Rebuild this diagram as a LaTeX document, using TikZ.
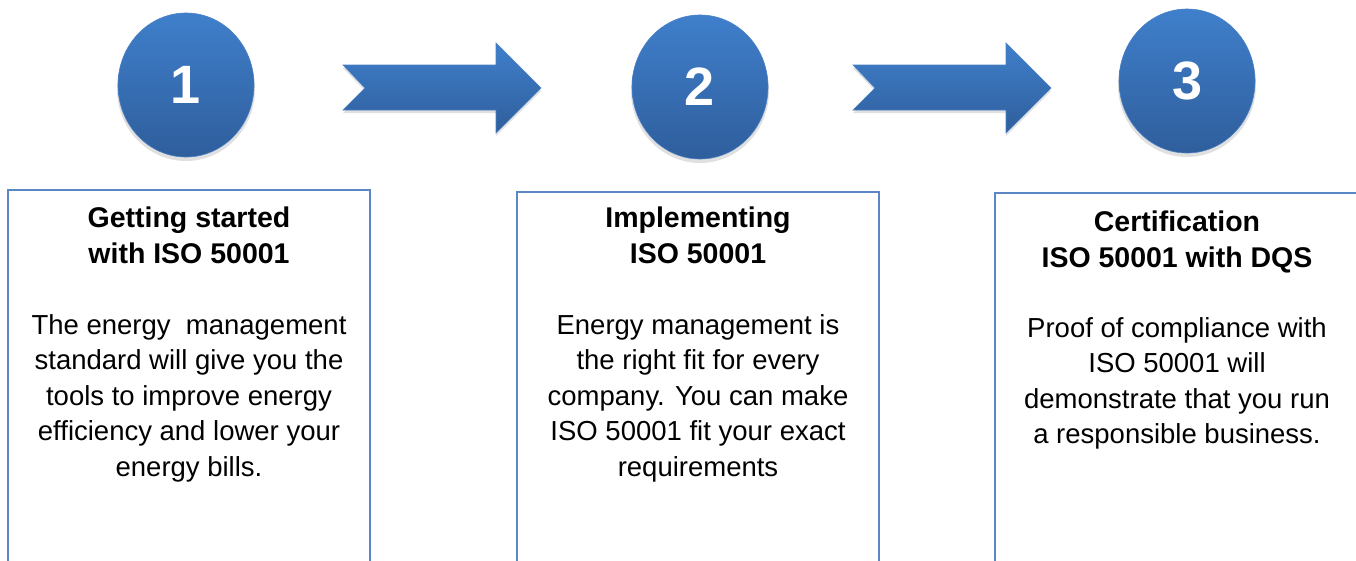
\documentclass[tikz,border=0pt]{standalone}
\usepackage{fontspec}
\setmainfont{Liberation Sans}
\begin{document}
\begin{tikzpicture}[x=1pt,y=-1pt,
  boxframe/.style={draw=boxblue,line width=1.6pt},
  title/.style={anchor=north,inner sep=0pt,align=center,font=\fontsize{28.5}{35.5}\selectfont\bfseries},
  body/.style={anchor=north,inner sep=0pt,align=center,font=\fontsize{27.5}{35.5}\selectfont},
  digit/.style={inner sep=0pt,text=white,font=\fontsize{54}{54}\selectfont\bfseries},
  blueshade/.style={top color=topblue,bottom color=botblue,draw=edgeblue,line width=0.6pt},
  shadow/.style={fill=black,opacity=0.12}]
\definecolor{topblue}{HTML}{3F7FCB}
\definecolor{botblue}{HTML}{2F5E9C}
\definecolor{edgeblue}{HTML}{4A80C4}
\definecolor{boxblue}{HTML}{5B87C5}
\useasboundingbox (0,0) rectangle (1356,560);
% circles
\foreach \n/\cx/\cy in {1/186/85,2/700/87,3/1187/81}{
  \fill[shadow] (\cx,\cy+4) ellipse [x radius=69, y radius=72];
  \path[blueshade] (\cx,\cy) ellipse [x radius=68, y radius=72];
  \node[digit] (c\n) at (\cx,\cy) {\n};
}
% arrows
\foreach \a/\x in {1/343,2/853}{
  \fill[shadow] (\x,68) -- (\x+153,68) -- (\x+153,46) -- (\x+198,91) -- (\x+153,136) -- (\x+153,113) -- (\x,113) -- (\x+22,91) -- cycle;
  \path[blueshade] (\x,65) -- (\x+153,65) -- (\x+153,43) -- (\x+198,88) -- (\x+153,133) -- (\x+153,110) -- (\x,110) -- (\x+22,88) -- cycle;
}
% boxes
\draw[boxframe] (8,575) -- (8,190) -- (370,190) -- (370,575);
\draw[boxframe] (517,575) -- (517,192) -- (879,192) -- (879,575);
\draw[boxframe] (995,575) -- (995,193) -- (1358,193) -- (1358,575);
% texts
\node[title] (t1) at (189,207) {Getting started\\with ISO 50001};
\node[body] (b1) at (189,314) {The energy\ \ management\\standard will give you the\\tools to improve energy\\efficiency and lower your\\energy bills.};
\node[title] (t2) at (698,207) {Implementing\\ISO 50001};
\node[body] (b2) at (698,314) {Energy management is\\the right fit for every\\company. You can make\\ISO 50001 fit your exact\\requirements};
\node[title] (t3) at (1177,211) {Certification\\ISO 50001 with DQS};
\node[body] (b3) at (1177,317) {Proof of compliance with\\ISO 50001 will\\demonstrate that you run\\a responsible business.};
\end{tikzpicture}
\end{document}
